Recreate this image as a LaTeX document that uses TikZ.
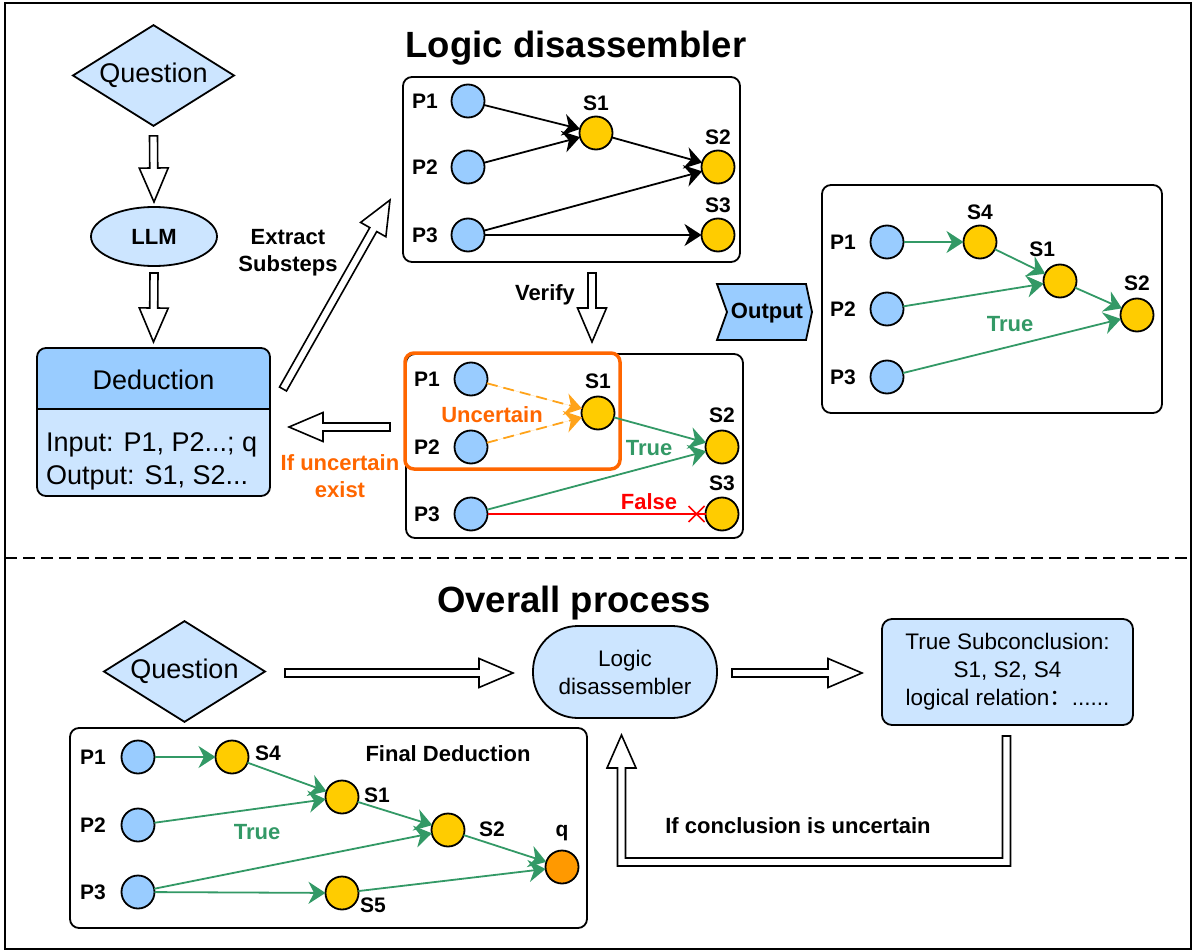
\documentclass[tikz,border=0pt]{standalone}
\usepackage{fontspec}
\setmainfont{Liberation Sans}
\newfontfamily\cjk{Noto Sans CJK SC}
\usetikzlibrary{arrows.meta,calc,shapes.geometric}

\definecolor{lightblue}{HTML}{CCE5FF}
\definecolor{midblue}{HTML}{99CCFF}
\definecolor{sgold}{HTML}{FFCC00}
\definecolor{qorange}{HTML}{FF9900}
\definecolor{okgreen}{HTML}{339966}
\definecolor{warnorange}{HTML}{FF6600}
\definecolor{dashorange}{HTML}{FFA31A}
\definecolor{badred}{HTML}{FF0000}

% block arrow parameters: shaft half width, head half width, head length
\def\haS{4pt}
\def\haW{14.5pt}
\def\haL{34pt}
\newcommand\hollowarrow[2]{%
  \path ($(#2)!\haL!(#1)$) coordinate (hahead);
  \draw[hollow] ($(#1)!\haS!90:(#2)$) -- ($(hahead)!\haS!90:(#2)$)
    -- ($(hahead)!\haW!90:(#2)$) -- (#2) -- ($(hahead)!\haW!-90:(#2)$)
    -- ($(hahead)!\haS!-90:(#2)$) -- ($(#1)!\haS!-90:(#2)$) -- cycle;
}

\tikzset{
  every node/.style={inner sep=0pt, outer sep=0pt},
  hollow/.style={draw=black, fill=white, line width=1.6pt, line join=miter},
  panel/.style={draw, line width=1.8pt, rounded corners=9pt},
  pc/.style={circle, draw, line width=1.8pt, fill=midblue, minimum size=33pt},
  sc/.style={circle, draw, line width=1.8pt, fill=sgold, minimum size=33pt},
  qc/.style={circle, draw, line width=1.8pt, fill=qorange, minimum size=33pt},
  lab/.style={font=\fontsize{21}{25}\selectfont\bfseries, anchor=center},
  tag/.style={font=\fontsize{22}{27}\selectfont\bfseries, align=center},
  body/.style={font=\fontsize{27}{33}\selectfont},
  small/.style={font=\fontsize{22.5}{28}\selectfont, align=center},
  title/.style={font=\fontsize{36.5}{44}\selectfont\bfseries, anchor=base},
  tipstyle/.style={-{Stealth[length=17pt,width=22pt,inset=5.5pt]}},
  blk/.style={tipstyle, line width=1.8pt},
  grn/.style={tipstyle, line width=1.8pt, draw=okgreen, fill=okgreen},
  unc/.style={tipstyle, line width=1.8pt, draw=dashorange, fill=dashorange,
    dash pattern=on 11pt off 6pt},
  qdiamond/.style={diamond, draw, line width=1.8pt, fill=lightblue,
    minimum width=161pt, minimum height=85pt, inner sep=-8pt, body},
}

\begin{document}
\begin{tikzpicture}[x=1pt,y=1pt]
\useasboundingbox (0,0) rectangle (1194,-952);

% frame and section divider
\draw[line width=1.8pt] (5,-3) rectangle (1191,-949);
\draw[line width=1.6pt, dash pattern=on 12pt off 6pt] (5,-558) -- (1191,-558);

% titles
\node[title] (t1) at (576,-58) {Logic disassembler};
\node[title] (t2) at (574,-612) {Overall process};

% ---------- upper section: generation loop ----------
\node[qdiamond] (q1) at (153.5,-75.5) {Question};
\node[ellipse, draw, line width=1.8pt, fill=lightblue, minimum width=126pt,
  minimum height=59pt, tag] (llm) at (154,-236.5) {LLM};

% deduction card
\node[minimum width=233pt, minimum height=148pt] (ded) at (153.5,-422) {};
\fill[lightblue, rounded corners=9pt] (ded.south west) rectangle (ded.north east);
\fill[midblue] ($(ded.north west)+(0,-61)$) -- ($(ded.north west)+(0,-9)$)
  arc[start angle=180, end angle=90, radius=9] -- ($(ded.north east)+(-9,0)$)
  arc[start angle=90, end angle=0, radius=9] -- ($(ded.north east)+(0,-61)$) -- cycle;
\draw[line width=1.8pt] ($(ded.north west)+(0,-61)$) -- ($(ded.north east)+(0,-61)$);
\draw[line width=1.8pt, rounded corners=9pt] (ded.south west) rectangle (ded.north east);
\node[body] (dedhead) at ($(ded.north)+(0,-32)$) {Deduction};
\node[body, align=left, anchor=west] (dedbody) at ($(ded.west)+(9,-39)$)
  {Input: P1, P2...; q\\Output: S1, S2...};

\coordinate (h1s) at ($(q1.south)+(0,-10)$);
\coordinate (h1e) at ($(llm.north)+(0,5)$);
\coordinate (h2s) at ($(llm.south)+(0,-7)$);
\coordinate (h2e) at ($(ded.north)+(0,6)$);
\hollowarrow{h1s}{h1e}
\hollowarrow{h2s}{h2e}

% extraction panel
\node[panel, minimum width=337pt, minimum height=185pt] (lb1) at (571.5,-169.5) {};
\node[pc, label={[lab,label distance=26.5pt]180:P1}] (a1) at (468,-101) {};
\node[pc, label={[lab,label distance=26.5pt]180:P2}] (a2) at (468,-167) {};
\node[pc, label={[lab,label distance=26.5pt]180:P3}] (a3) at (468,-235) {};
\node[sc, label={[lab,label distance=13.5pt]90:S1}] (b1) at (596,-133) {};
\node[sc, label={[lab,label distance=13.5pt]90:S2}] (b2) at (718,-167) {};
\node[sc, label={[lab,label distance=13.5pt]90:S3}] (b3) at (718,-235) {};
\draw[blk] (a1) -- (b1);
\draw[blk] (a2) -- (b1);
\draw[blk] (b1) -- (b2);
\draw[blk] (a3) -- (b2);
\draw[blk] (a3) -- (b3);

\coordinate (h3s) at ($(ded.east)+(13,33)$);
\coordinate (h3e) at ($(lb1.west)+(-13,-30.5)$);
\hollowarrow{h3s}{h3e}
\node[tag] (lblextract) at (288,-253) {Extract\\Substeps};

% verification panel
\node[panel, minimum width=337pt, minimum height=184pt] (lb2) at (574.5,-446) {};
\draw[warnorange, line width=3.5pt, rounded corners=9pt] (405,-353) rectangle (620,-469);
\node[pc, label={[lab,label distance=27.5pt]180:P1}] (c1) at (471,-379) {};
\node[pc, label={[lab,label distance=27.5pt]180:P2}] (c2) at (471,-447) {};
\node[pc, label={[lab,label distance=27.5pt]180:P3}] (c3) at (471,-514) {};
\node[sc, label={[lab,label distance=15.5pt]90:S1}] (d1) at (598,-413) {};
\node[sc, label={[lab,label distance=15.5pt]90:S2}] (d2) at (722,-447) {};
\node[sc, label={[lab,label distance=14.5pt]90:S3}] (d3) at (722,-514) {};
\draw[unc] (c1) -- (d1);
\draw[unc] (c2) -- (d1);
\draw[grn] (d1) -- (d2);
\draw[grn] (c3) -- (d2);
\draw[badred, line width=1.6pt] (c3) -- (d3);
\coordinate (xmark) at ($(d3.west)+(-9,0)$);
\draw[badred, line width=1.6pt] ($(xmark)+(-8,8)$) -- ($(xmark)+(8,-8)$)
  ($(xmark)+(-8,-8)$) -- ($(xmark)+(8,8)$);
\node[tag, text=warnorange] (lblunc) at (492,-415) {Uncertain};
\node[tag, text=okgreen] (lbltrue1) at (649,-448) {True};
\node[tag, text=badred] (lblfalse) at (649,-502) {False};

\coordinate (h4s) at ($(lb1.south)+(20.5,-11)$);
\coordinate (h4e) at ($(lb2.north)+(17.5,12)$);
\hollowarrow{h4s}{h4e}
\node[tag] (lblverify) at (545,-295) {Verify};

\coordinate (h5s) at ($(lb2.west)+(-16,19)$);
\coordinate (h5e) at ($(ded.east)+(19,-5)$);
\hollowarrow{h5s}{h5e}
\node[tag, text=warnorange] (lblifunc) at (340,-476) {If uncertain\\exist};

% output marker
\draw[line width=1.8pt, fill=midblue, line join=miter] (717,-284) -- (806,-284)
  -- (812,-312) -- (806,-340) -- (717,-340) -- (727,-312) -- cycle;
\node[tag] (outlbl) at (767,-313) {Output};

% output panel
\node[panel, minimum width=340pt, minimum height=228pt] (lb3) at (992,-299) {};
\node[pc, label={[lab,label distance=27.5pt]180:P1}] (e1) at (887,-242) {};
\node[pc, label={[lab,label distance=27.5pt]180:P2}] (e2) at (887,-309) {};
\node[pc, label={[lab,label distance=27.5pt]180:P3}] (e3) at (887,-377) {};
\node[sc, label={[lab,label distance=13.5pt]90:S4}] (f4) at (980,-242) {};
\node[sc, label={[lab,label distance=20pt]119:S1}] (f1) at (1060,-281) {};
\node[sc, label={[lab,label distance=15.5pt]90:S2}] (f2) at (1137,-315) {};
\draw[grn] (e1) -- (f4);
\draw[grn] (f4) -- (f1);
\draw[grn] (e2) -- (f1);
\draw[grn] (f1) -- (f2);
\draw[grn] (e3) -- (f2);
\node[tag, text=okgreen] (lbltrue2) at (1010,-324) {True};

% ---------- lower section: overall process ----------
\node[qdiamond] (q2) at (184.5,-671.5) {Question};
\node[draw, line width=1.8pt, fill=lightblue, rounded corners=45pt,
  minimum width=184pt, minimum height=92pt, small] (ld) at (625,-672)
  {Logic\\disassembler};
\node[draw, line width=1.8pt, fill=lightblue, rounded corners=10pt,
  minimum width=251pt, minimum height=106pt, small] (ts) at (1007.5,-672)
  {True Subconclusion:\\S1, S2, S4\\logical relation{\cjk ：}......};

\coordinate (h6s) at ($(q2.east)+(20,-1.5)$);
\coordinate (h6e) at ($(ld.west)+(-20,-1)$);
\hollowarrow{h6s}{h6e}
\coordinate (h7s) at ($(ld.east)+(15,-1)$);
\coordinate (h7e) at ($(ts.west)+(-20,-1)$);
\hollowarrow{h7s}{h7e}

% feedback loop back into the disassembler
\coordinate (rtail) at ($(ts.south)+(-1,-11)$);
\coordinate (rtip) at ($(ld.south)+(-3.5,-17)$);
\draw[hollow] ($(rtail)+(-4,0)$) -- ($(rtail)+(-4,-122)$) -- ($(rtip)+(4,-123)$)
  -- ($(rtip)+(4,-33)$) -- ($(rtip)+(14.5,-33)$) -- (rtip)
  -- ($(rtip)+(-14.5,-33)$) -- ($(rtip)+(-4,-33)$) -- ($(rtip)+(-4,-131)$)
  -- ($(rtail)+(4,-130)$) -- ($(rtail)+(4,0)$) -- cycle;
\node[tag] (lblcond) at (798,-826) {If conclusion is uncertain};

% final deduction panel
\node[panel, minimum width=517pt, minimum height=200pt] (fd) at (328.5,-828) {};
\node[pc, label={[lab,label distance=28.5pt]180:P1}] (g1) at (138,-757) {};
\node[pc, label={[lab,label distance=28.5pt]180:P2}] (g2) at (138,-825) {};
\node[pc, label={[lab,label distance=28.5pt]180:P3}] (g3) at (138,-892) {};
\node[sc, label={[lab,label distance=19.7pt]6:S4}] (h4) at (232,-757) {};
\node[sc, label={[lab,label distance=18.5pt]3:S1}] (h1) at (342,-797) {};
\node[sc, label={[lab,label distance=27.5pt]1:S2}] (h2) at (448,-830) {};
\node[qc, label={[lab,label distance=17.5pt]90:q}] (hq) at (562,-867) {};
\node[sc, label={[lab,label distance=16.7pt]-21:S5}] (h5) at (342,-893) {};
\draw[grn] (g1) -- (h4);
\draw[grn] (h4) -- (h1);
\draw[grn] (g2) -- (h1);
\draw[grn] (h1) -- (h2);
\draw[grn] (g3) -- (h2);
\draw[grn] (h2) -- (hq);
\draw[grn] (g3) -- (h5);
\draw[grn] (h5) -- (hq);
\node[tag, text=okgreen] (lbltrue3) at (257,-832) {True};
\node[tag] (lblfinal) at (448,-754) {Final Deduction};
\end{tikzpicture}
\end{document}
